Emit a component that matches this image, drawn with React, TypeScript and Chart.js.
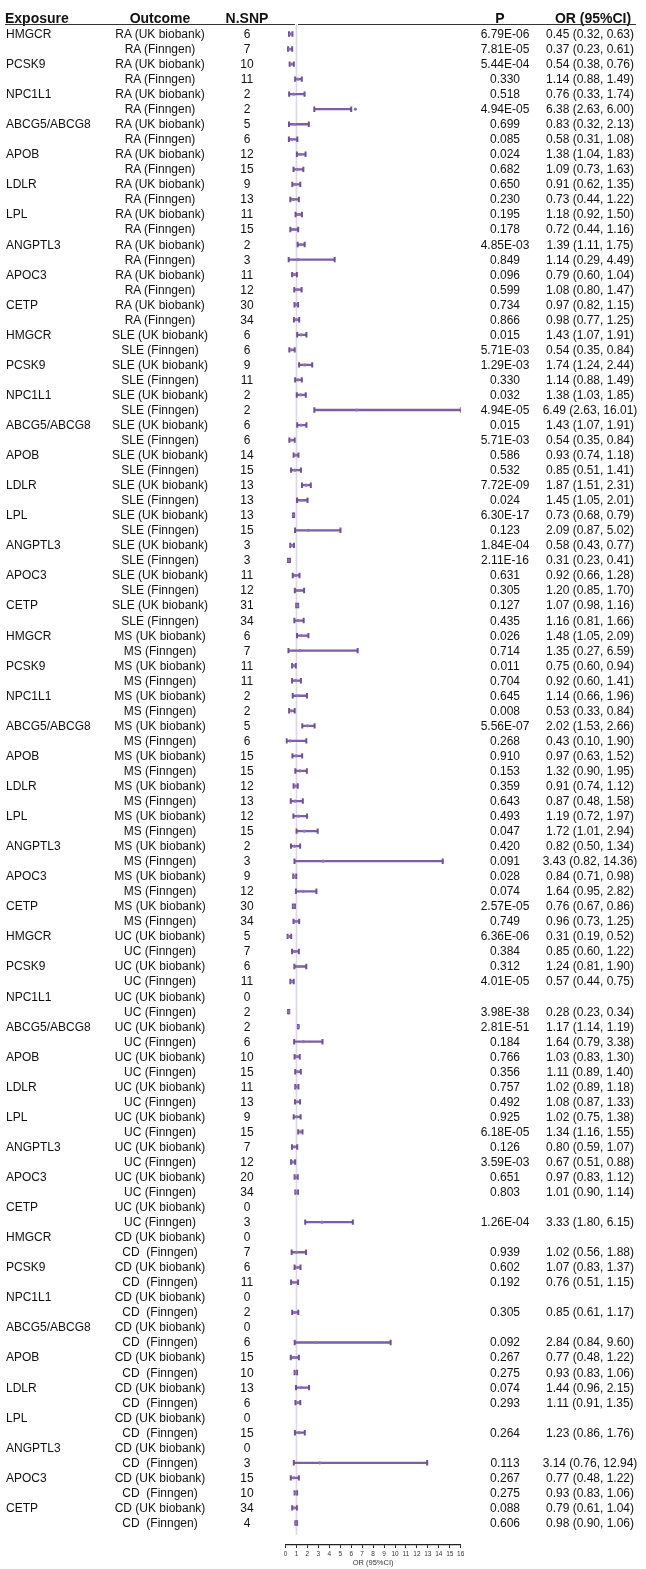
import React, { useEffect, useRef } from 'react';
import { Chart, registerables } from 'chart.js';

Chart.register(...registerables);

// ---------------- data ----------------
const EXPOSURES = ['HMGCR', 'PCSK9', 'NPC1L1', 'ABCG5/ABCG8', 'APOB', 'LDLR', 'LPL', 'ANGPTL3', 'APOC3', 'CETP'];
const UK_LABELS = ['RA (UK biobank)', 'SLE (UK biobank)', 'MS (UK biobank)', 'UC (UK biobank)', 'CD (UK biobank)'];
const FINNGEN_LABELS = ['RA (Finngen)', 'SLE (Finngen)', 'MS (Finngen)', 'UC (Finngen)', 'CD  (Finngen)'];

// per row (disease block x exposure x [UK biobank, Finngen])
const N_SNP = [
  6, 7, 10, 11, 2, 2, 5, 6, 12, 15, 9, 13, 11, 15, 2, 3, 11, 12, 30, 34,
  6, 6, 9, 11, 2, 2, 6, 6, 14, 15, 13, 13, 13, 15, 3, 3, 11, 12, 31, 34,
  6, 7, 11, 11, 2, 2, 5, 6, 15, 15, 12, 13, 12, 15, 2, 3, 9, 12, 30, 34,
  5, 7, 6, 11, 0, 2, 2, 6, 10, 15, 11, 13, 9, 15, 7, 12, 20, 34, 0, 3,
  0, 7, 6, 11, 0, 2, 0, 6, 15, 10, 13, 6, 0, 15, 0, 3, 15, 10, 34, 4,
];

const P_VALUES = [
  '6.79E-06', '7.81E-05', '5.44E-04', '0.330', '0.518', '4.94E-05', '0.699', '0.085', '0.024', '0.682',
  '0.650', '0.230', '0.195', '0.178', '4.85E-03', '0.849', '0.096', '0.599', '0.734', '0.866',
  '0.015', '5.71E-03', '1.29E-03', '0.330', '0.032', '4.94E-05', '0.015', '5.71E-03', '0.586', '0.532',
  '7.72E-09', '0.024', '6.30E-17', '0.123', '1.84E-04', '2.11E-16', '0.631', '0.305', '0.127', '0.435',
  '0.026', '0.714', '0.011', '0.704', '0.645', '0.008', '5.56E-07', '0.268', '0.910', '0.153',
  '0.359', '0.643', '0.493', '0.047', '0.420', '0.091', '0.028', '0.074', '2.57E-05', '0.749',
  '6.36E-06', '0.384', '0.312', '4.01E-05', '', '3.98E-38', '2.81E-51', '0.184', '0.766', '0.356',
  '0.757', '0.492', '0.925', '6.18E-05', '0.126', '3.59E-03', '0.651', '0.803', '', '1.26E-04',
  '', '0.939', '0.602', '0.192', '', '0.305', '', '0.092', '0.267', '0.275',
  '0.074', '0.293', '', '0.264', '', '0.113', '0.267', '0.275', '0.088', '0.606',
];

const OR_VALUES: (number | null)[] = [
  0.45, 0.37, 0.54, 1.14, 0.76, 6.38, 0.83, 0.58, 1.38, 1.09, 0.91, 0.73, 1.18, 0.72, 1.39, 1.14, 0.79, 1.08, 0.97, 0.98,
  1.43, 0.54, 1.74, 1.14, 1.38, 6.49, 1.43, 0.54, 0.93, 0.85, 1.87, 1.45, 0.73, 2.09, 0.58, 0.31, 0.92, 1.20, 1.07, 1.16,
  1.48, 1.35, 0.75, 0.92, 1.14, 0.53, 2.02, 0.43, 0.97, 1.32, 0.91, 0.87, 1.19, 1.72, 0.82, 3.43, 0.84, 1.64, 0.76, 0.96,
  0.31, 0.85, 1.24, 0.57, null, 0.28, 1.17, 1.64, 1.03, 1.11, 1.02, 1.08, 1.02, 1.34, 0.80, 0.67, 0.97, 1.01, null, 3.33,
  null, 1.02, 1.07, 0.76, null, 0.85, null, 2.84, 0.77, 0.93, 1.44, 1.11, null, 1.23, null, 3.14, 0.77, 0.93, 0.79, 0.98,
];

const CI_LOW: (number | null)[] = [
  0.32, 0.23, 0.38, 0.88, 0.33, 2.63, 0.32, 0.31, 1.04, 0.73, 0.62, 0.44, 0.92, 0.44, 1.11, 0.29, 0.60, 0.80, 0.82, 0.77,
  1.07, 0.35, 1.24, 0.88, 1.03, 2.63, 1.07, 0.35, 0.74, 0.51, 1.51, 1.05, 0.68, 0.87, 0.43, 0.23, 0.66, 0.85, 0.98, 0.81,
  1.05, 0.27, 0.60, 0.60, 0.66, 0.33, 1.53, 0.10, 0.63, 0.90, 0.74, 0.48, 0.72, 1.01, 0.50, 0.82, 0.71, 0.95, 0.67, 0.73,
  0.19, 0.60, 0.81, 0.44, null, 0.23, 1.14, 0.79, 0.83, 0.89, 0.89, 0.87, 0.75, 1.16, 0.59, 0.51, 0.83, 0.90, null, 1.80,
  null, 0.56, 0.83, 0.51, null, 0.61, null, 0.84, 0.48, 0.83, 0.96, 0.91, null, 0.86, null, 0.76, 0.48, 0.83, 0.61, 0.90,
];

const CI_HIGH: (number | null)[] = [
  0.63, 0.61, 0.76, 1.49, 1.74, 6.00, 2.13, 1.08, 1.83, 1.63, 1.35, 1.22, 1.50, 1.16, 1.75, 4.49, 1.04, 1.47, 1.15, 1.25,
  1.91, 0.84, 2.44, 1.49, 1.85, 16.01, 1.91, 0.84, 1.18, 1.41, 2.31, 2.01, 0.79, 5.02, 0.77, 0.41, 1.28, 1.70, 1.16, 1.66,
  2.09, 6.59, 0.94, 1.41, 1.96, 0.84, 2.66, 1.90, 1.52, 1.95, 1.12, 1.58, 1.97, 2.94, 1.34, 14.36, 0.98, 2.82, 0.86, 1.25,
  0.52, 1.22, 1.90, 0.75, null, 0.34, 1.19, 3.38, 1.30, 1.40, 1.18, 1.33, 1.38, 1.55, 1.07, 0.88, 1.12, 1.14, null, 6.15,
  null, 1.88, 1.37, 1.15, null, 1.17, null, 9.60, 1.22, 1.06, 2.15, 1.35, null, 1.76, null, 12.94, 1.22, 1.06, 1.04, 1.06,
];

const X_MIN = 0;
const X_MAX = 16;
const X_STEP = 1;
const REF_VALUE = 1;
const AXIS_TITLE = 'OR (95%CI)';
const HEADERS = ['Exposure', 'Outcome', 'N.SNP', 'P', 'OR (95%CI)'];

// ---------------- layout ----------------
const W = 646;
const H = 1569;
const ROW0 = 34;
const STEP = 15.04;
const AREA_TOP = 20;
const AREA_BOTTOM = 1545;
const Y_MIN = -(ROW0 - AREA_TOP) / STEP;
const Y_MAX = Y_MIN + (AREA_BOTTOM - AREA_TOP) / STEP;
const PLOT_LEFT = 285.5;
const PLOT_RIGHT = 460.7;

const PURPLE = '#7b5ea7';
const FONT = "'Liberation Sans', Arial, Helvetica, sans-serif";

type Row = { exposure: string; outcome: string; n: number; p: string; or: number | null; lo: number | null; hi: number | null };

const ROWS: Row[] = [];
UK_LABELS.forEach((uk, d) => {
  EXPOSURES.forEach((e, k) => {
    [uk, FINNGEN_LABELS[d]].forEach((outcome, s) => {
      const i = d * 20 + k * 2 + s;
      ROWS.push({ exposure: s === 0 ? e : '', outcome, n: N_SNP[i], p: P_VALUES[i], or: OR_VALUES[i], lo: CI_LOW[i], hi: CI_HIGH[i] });
    });
  });
});

const fmt = (v: number) => v.toFixed(2);

export default function App() {
  const canvasRef = useRef<HTMLCanvasElement | null>(null);

  useEffect(() => {
    const canvas = canvasRef.current;
    if (!canvas) return;
    const lines: any[] = [];
    const caps: any[] = [];
    const pts: any[] = [];
    ROWS.forEach((r, i) => {
      if (r.lo == null || r.hi == null || r.or == null) return;
      lines.push({ x: r.lo, y: i }, { x: r.hi, y: i }, { x: null, y: null });
      caps.push({ x: r.lo, y: i }, { x: r.hi, y: i });
      pts.push({ x: r.or, y: i });
    });

    const chart = new Chart(canvas, {
      type: 'scatter',
      data: {
        datasets: [
          {
            data: [{ x: REF_VALUE, y: -0.68 }, { x: REF_VALUE, y: 99.8 }],
            showLine: true,
            borderColor: '#ddd6e8',
            borderWidth: 1.6,
            pointRadius: 0,
            order: 4,
          },
          {
            data: lines,
            showLine: true,
            spanGaps: false,
            borderColor: PURPLE,
            borderWidth: 2.3,
            pointRadius: 0,
            order: 3,
          },
          {
            data: caps,
            showLine: false,
            pointStyle: 'line',
            pointRotation: 90,
            pointRadius: 2.7,
            pointBorderWidth: 2,
            pointBorderColor: '#6d5096',
            pointBackgroundColor: '#6d5096',
            order: 2,
          },
          {
            data: pts,
            showLine: false,
            pointRadius: 1.6,
            pointBorderWidth: 0,
            pointBackgroundColor: '#8c74b0',
            order: 1,
          },
        ] as any,
      },
      options: {
        animation: false,
        responsive: false,
        events: [],
        layout: { padding: { top: AREA_TOP, left: PLOT_LEFT, right: W - PLOT_RIGHT, bottom: 0 } },
        plugins: { legend: { display: false }, tooltip: { enabled: false } },
        scales: {
          x: {
            type: 'linear',
            position: 'bottom',
            min: X_MIN,
            max: X_MAX,
            afterFit: (s: any) => { s.height = H - AREA_BOTTOM; },
            ticks: { stepSize: X_STEP, autoSkip: false, maxRotation: 0, padding: 2, color: '#333', font: { family: FONT, size: 6.5 } },
            grid: { drawOnChartArea: false, drawTicks: true, tickLength: 3, color: '#222', lineWidth: 1 },
            border: { display: true, color: '#222', width: 1.3 },
            title: { display: true, text: AXIS_TITLE, color: '#333', font: { family: FONT, size: 7.5 }, padding: { top: 0, bottom: 2 } },
          },
          y: { type: 'linear', reverse: true, min: Y_MIN, max: Y_MAX, display: false },
        },
      } as any,
    });
    return () => chart.destroy();
  }, []);

  const rowTop = (i: number) => ROW0 - 0.2 + STEP * i - 6.86;
  const cell = (left: number, width: number, align: 'left' | 'center', top: number): React.CSSProperties => ({
    position: 'absolute', left, width, top, textAlign: align, whiteSpace: 'pre', lineHeight: '14px',
  });
  const head = (left: number, width: number, align: 'left' | 'center'): React.CSSProperties => ({
    position: 'absolute', left, width, top: 9.6, textAlign: align, whiteSpace: 'pre', lineHeight: '16px', fontWeight: 700, fontSize: 14,
  });

  return (
    <div style={{ position: 'absolute', left: 0, top: 0, width: W, height: H, fontFamily: FONT, fontSize: 12, color: '#111', background: '#fff', overflow: 'hidden' }}>
      <canvas ref={canvasRef} width={W} height={H} style={{ position: 'absolute', left: 0, top: 0, width: W, height: H }} />
      <div style={head(5, 120, 'left')}>{HEADERS[0]}</div>
      <div style={head(100, 120, 'center')}>{HEADERS[1]}</div>
      <div style={head(207, 80, 'center')}>{HEADERS[2]}</div>
      <div style={head(460, 80, 'center')}>{HEADERS[3]}</div>
      <div style={head(533, 120, 'center')}>{HEADERS[4]}</div>
      <div style={{ position: 'absolute', left: 5, width: 290, top: 24, height: 1.4, background: '#333' }} />
      <div style={{ position: 'absolute', left: 298, width: 338, top: 24, height: 1.4, background: '#333' }} />
      {ROWS.map((r, i) => (
        <React.Fragment key={i}>
          {r.exposure ? <div style={cell(6, 110, 'left', rowTop(i))}>{r.exposure}</div> : null}
          <div style={cell(60, 200, 'center', rowTop(i))}>{r.outcome}</div>
          <div style={cell(217, 60, 'center', rowTop(i))}>{String(r.n)}</div>
          {r.p ? <div style={cell(455, 100, 'center', rowTop(i))}>{r.p}</div> : null}
          {r.or != null && r.lo != null && r.hi != null ? (
            <div style={cell(530, 120, 'center', rowTop(i))}>{`${fmt(r.or)} (${fmt(r.lo)}, ${fmt(r.hi)})`}</div>
          ) : null}
        </React.Fragment>
      ))}
    </div>
  );
}
